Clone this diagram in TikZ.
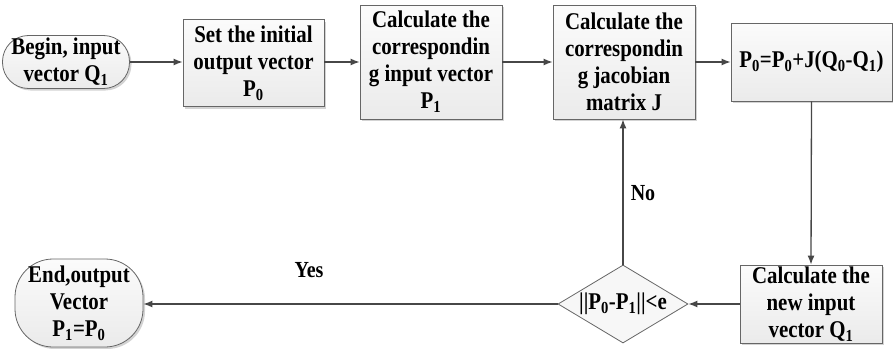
\documentclass[tikz,border=0pt]{standalone}
\usepackage{fontspec}
\setmainfont[FakeStretch=0.87]{Liberation Serif}
\usetikzlibrary{arrows.meta,shapes.geometric,shadows}
\newcommand\lo[1]{\textsubscript{#1}}
\begin{document}
\begin{tikzpicture}[x=1pt,y=-1pt,
  every node/.style={font=\fontsize{24}{27}\selectfont\bfseries, align=center, inner sep=0pt},
  boxstyle/.style={draw=black!60, line width=0.8pt, top color=gray!3, bottom color=gray!16,
    drop shadow={opacity=0.35, shadow xshift=2pt, shadow yshift=-2pt}},
  procbox/.style={boxstyle, rectangle},
  termbox/.style={boxstyle, rectangle},
  decision/.style={diamond, draw=black!60, line width=0.8pt, fill=gray!6,
    minimum width=130pt, minimum height=78pt},
  arr/.style={draw=black!72, line width=1.3pt, -{Latex[length=9pt,width=7pt]}},
  lbl/.style={font=\fontsize{23}{27}\selectfont\bfseries}
]
\useasboundingbox (0,0) rectangle (893,348);

% top row
\node[termbox, rounded corners=26pt, minimum width=127pt, minimum height=53pt] (begin) at (66,62)
  {Begin, input\\vector Q\lo{1}};
\node[procbox, minimum width=141pt, minimum height=87pt] (b1) at (253.5,63)
  {Set the initial\\output vector\\P\lo{0}};
\node[procbox, minimum width=142pt, minimum height=114pt] (b2) at (431,62)
  {Calculate the\\correspondin\\g input vector\\P\lo{1}};
\node[procbox, minimum width=142pt, minimum height=114pt] (b3) at (624,62)
  {Calculate the\\correspondin\\g jacobian\\matrix J};
\node[procbox, minimum width=161pt, minimum height=78pt] (b4) at (811.5,62)
  {P\lo{0}=P\lo{0}+J(Q\lo{0}-Q\lo{1})};

% bottom row
\node[procbox, minimum width=142pt, minimum height=78pt] (b5) at (811,304)
  {Calculate the\\new input\\vector Q\lo{1}};
\node[decision] (dec) at (623,304) {};
\node (dectext) at (dec.center) {||P\lo{0}-P\lo{1}||<e};
\node[termbox, rounded corners=38pt, minimum width=128pt, minimum height=88pt] (end) at (79,303)
  {End,output\\Vector\\P\lo{1}=P\lo{0}};

% connectors
\draw[arr] (begin.east) -- (begin.east -| b1.west);
\draw[arr] (b1.east |- begin.east) -- (b2.west |- begin.east);
\draw[arr] (b2.east |- begin.east) -- (b3.west |- begin.east);
\draw[arr] (b3.east |- begin.east) -- (b4.west |- begin.east);
\draw[arr] (b4.south) -- (b5.north);
\draw[arr] (b5.west) -- (dec.east);
\draw[arr] (dec.north) -- (dec.north |- b3.south);
\draw[arr] (dec.west) -- (dec.west -| end.east);

% branch labels
\node[lbl] (no) at (643,193) {No};
\node[lbl] (yes) at (309,270) {Yes};
\end{tikzpicture}
\end{document}
